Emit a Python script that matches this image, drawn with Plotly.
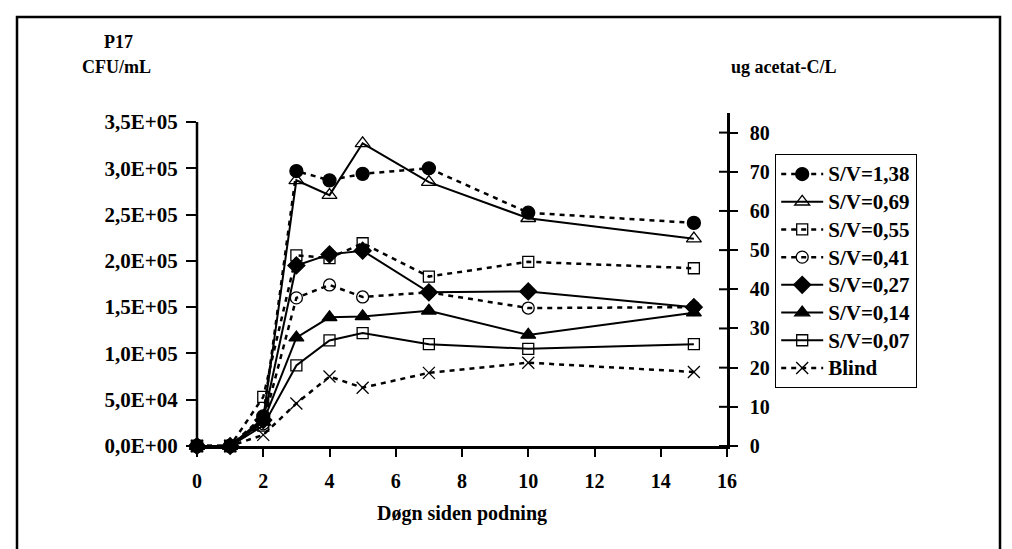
import plotly.graph_objects as go

# Sampling days
days = [0, 1, 2, 3, 4, 5, 7, 10, 15]

# CFU/mL per series
sv_138 = [0, 0, 32000, 297000, 287000, 294000, 300000, 252000, 241000]
sv_069 = [0, 0, 30000, 287000, 271000, 327000, 285000, 246000, 224000]
sv_055 = [0, 0, 53000, 206000, 203000, 219000, 183000, 199000, 192000]
sv_041 = [0, 0, 24000, 160000, 174000, 161000, 166000, 149000, 150000]
sv_027 = [0, 0, 28000, 195000, 207000, 211000, 166000, 167000, 150000]
sv_014 = [0, 0, 26000, 117000, 139000, 140000, 146000, 120000, 144000]
sv_007 = [0, 0, 22000, 87000, 114000, 122000, 110000, 105000, 110000]
blind = [0, 0, 12000, 46000, 75000, 63000, 79000, 90000, 80000]

series_names = ["S/V=1,38", "S/V=0,69", "S/V=0,55", "S/V=0,41",
                "S/V=0,27", "S/V=0,14", "S/V=0,07", "Blind"]

left_tickvals = [0, 50000, 100000, 150000, 200000, 250000, 300000, 350000]
left_ticktext = ["0,0E+00", "5,0E+04", "1,0E+05", "1,5E+05",
                 "2,0E+05", "2,5E+05", "3,0E+05", "3,5E+05"]
right_tickvals = [0, 10, 20, 30, 40, 50, 60, 70, 80]
x_tickvals = [0, 2, 4, 6, 8, 10, 12, 14, 16]

# Page geometry (pixels)
W, H = 1012, 549
PL, PR, PT, PB = 197, 727, 113, 446
LEFT_MAX_PX = 122          # pixel row of the 3,5E+05 tick
LEFT_TOP = 350000 * (PB - PT) / (PB - LEFT_MAX_PX)
RIGHT_TOP = 85

FONT = "Liberation Serif"
NOFILL = "rgba(0,0,0,0)"
DOTTED = "5px,5px"


def px(xp):
    return (xp - PL) / (PR - PL)


def py(yp):
    return (PB - yp) / (PB - PT)


styles = [
    dict(data=sv_138, dash=DOTTED, symbol="circle", fill="black", size=13),
    dict(data=sv_069, dash="solid", symbol="triangle-up", fill=NOFILL, size=13),
    dict(data=sv_055, dash=DOTTED, symbol="square", fill=NOFILL, size=11),
    dict(data=sv_041, dash=DOTTED, symbol="circle", fill=NOFILL, size=12),
    dict(data=sv_027, dash="solid", symbol="diamond", fill="black", size=13),
    dict(data=sv_014, dash="solid", symbol="triangle-up", fill="black", size=13),
    dict(data=sv_007, dash="solid", symbol="square", fill=NOFILL, size=11),
    dict(data=blind, dash=DOTTED, symbol="x-thin", fill="black", size=12),
]

fig = go.Figure()
for name, st in zip(series_names, styles):
    solid = st["dash"] == "solid"
    fig.add_trace(go.Scatter(
        x=days, y=st["data"],
        name=f'<span style="font-size:21px">{name}</span>',
        mode="lines+markers",
        line=dict(color="black", width=2.0 if solid else 2.5, dash=st["dash"]),
        marker=dict(symbol=st["symbol"], size=st["size"], color=st["fill"],
                    line=dict(color="black", width=1.3)),
        cliponaxis=False,
    ))

# Invisible trace to activate the secondary axis
fig.add_trace(go.Scatter(x=[0], y=[0], yaxis="y2", mode="markers",
                         marker=dict(opacity=0), showlegend=False,
                         hoverinfo="skip"))

tickfont = dict(family=FONT, size=20, color="black", weight="bold")
lefttickfont = dict(family=FONT, size=21, color="black", weight="bold")

fig.update_layout(
    width=W, height=H,
    margin=dict(l=PL, r=W - PR, t=PT, b=H - PB, pad=0),
    paper_bgcolor="white", plot_bgcolor="white",
    showlegend=True,
    legend=dict(
        x=px(775), y=py(154), xanchor="left", yanchor="top",
        bordercolor="black", borderwidth=1.2, bgcolor="white",
        font=dict(family=FONT, size=19, color="black", weight="bold"),
        tracegroupgap=0, itemwidth=42,
    ),
    xaxis=dict(
        range=[0, 16], tickvals=x_tickvals, showgrid=False, zeroline=False,
        showline=True, linecolor="black", linewidth=2.5,
        ticks="outside", ticklen=8, tickwidth=2, tickcolor="black",
        tickfont=tickfont, ticklabelstandoff=7,
        title=dict(text="Døgn siden podning",
                   font=dict(family=FONT, size=20, color="black", weight="bold"),
                   standoff=16),
    ),
    yaxis=dict(
        range=[0, LEFT_TOP], tickvals=left_tickvals, ticktext=left_ticktext,
        showgrid=False, zeroline=False, showline=False,
        ticks="outside", ticklen=10, tickwidth=2, tickcolor="black",
        tickfont=lefttickfont, ticklabelstandoff=4,
    ),
    yaxis2=dict(
        range=[0, RIGHT_TOP], tickvals=right_tickvals, overlaying="y",
        side="right", anchor="x", showgrid=False, zeroline=False,
        showline=True, linecolor="black", linewidth=2.5,
        ticks="outside", ticklen=8, tickwidth=2, tickcolor="black",
        tickfont=tickfont, ticklabelstandoff=8,
    ),
)

shapes = [
    # left value axis, ending at the top tick
    dict(type="line", xref="paper", yref="y", x0=0, x1=0, y0=0, y1=350000,
         line=dict(color="black", width=2.5)),
    # inner part of the right axis ticks
    *[dict(type="line", xref="paper", yref="y2", x0=1, x1=px(PR - 8),
           y0=v, y1=v, line=dict(color="black", width=2))
      for v in right_tickvals],
    # outer frame of the chart
    dict(type="rect", xref="paper", yref="paper",
         x0=px(17), x1=px(1000), y0=py(562), y1=py(17),
         line=dict(color="black", width=2.5), fillcolor="rgba(0,0,0,0)"),
]
fig.update_layout(shapes=shapes)

label_font = dict(family=FONT, size=18, color="black", weight="bold")
annotations = [
    dict(text="P17", x=px(118), y=py(42)),
    dict(text="CFU/mL", x=px(116), y=py(67)),
    dict(text="ug acetat-C/L", x=px(783), y=py(67)),
]
for a in annotations:
    a.update(xref="paper", yref="paper", showarrow=False,
             xanchor="center", yanchor="middle", font=label_font)
fig.update_layout(annotations=annotations)

fig.write_html("out.html")
